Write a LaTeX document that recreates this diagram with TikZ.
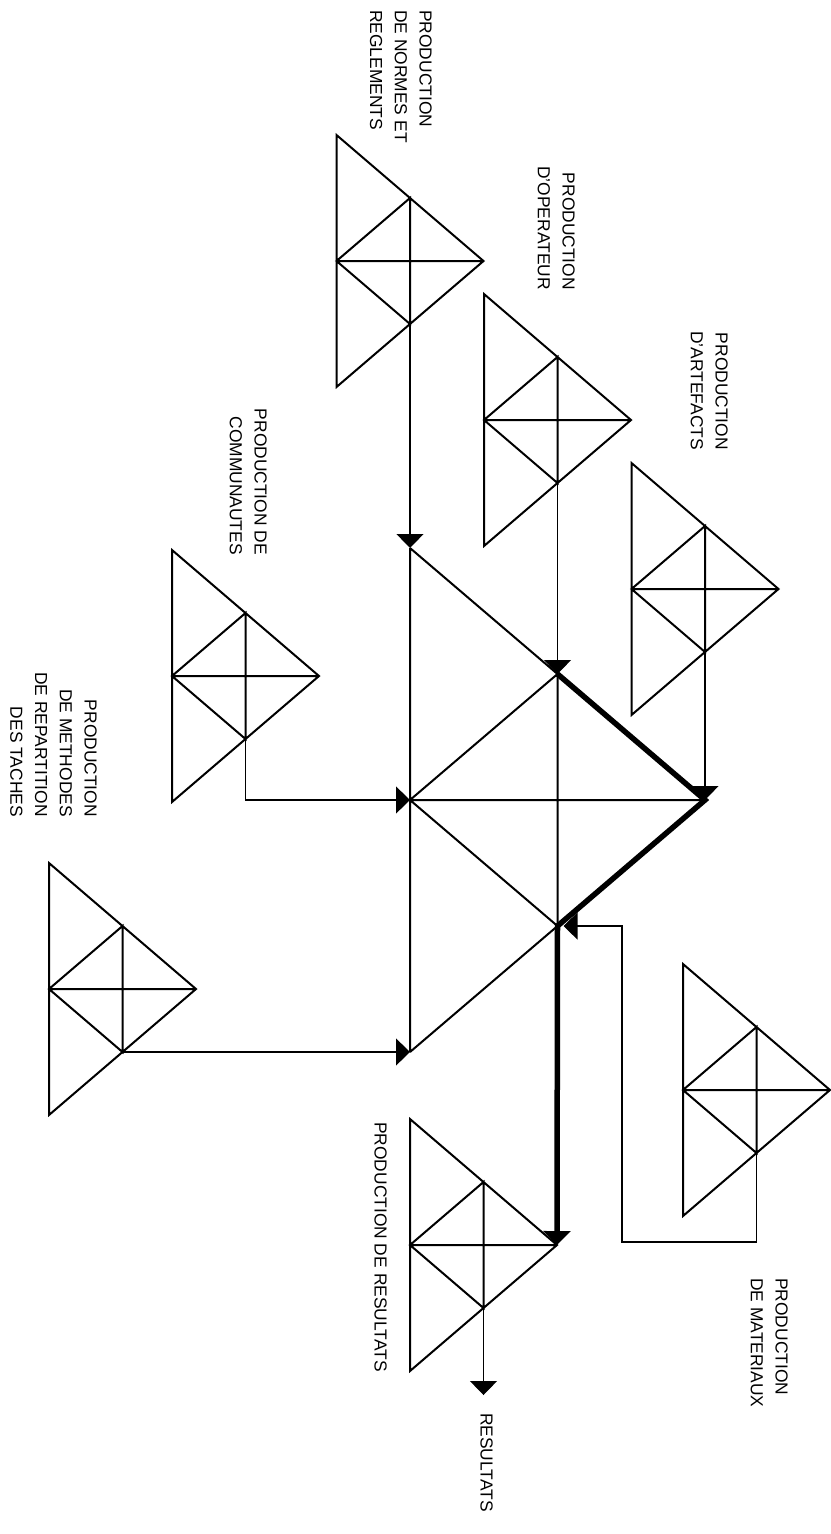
\documentclass[tikz,border=0pt]{standalone}
\usepackage{fontspec}
\setmainfont{Liberation Sans}
\usetikzlibrary{arrows.meta}

\tikzset{
  tri/.style={line width=2pt, line join=miter},
  conn/.style={line width=1.1pt},
  heavy/.style={line width=5.5pt, line join=miter},
  tip/.style={-{Triangle[width=27pt,length=14pt]}},
  lbl/.style={rotate=-90, inner sep=0pt, font=\fontsize{17.4pt}{24.8pt}\selectfont}
}

% #1 name, #2 base x, #3 middle y, #4 width, #5 half height
\newcommand\trigrid[5]{%
  \coordinate (#1-top) at (#2,{#3-#5});
  \coordinate (#1-bot) at (#2,{#3+#5});
  \coordinate (#1-base) at (#2,#3);
  \coordinate (#1-apex) at ({#2+#4},#3);
  \coordinate (#1-um) at ({#2+#4/2},{#3-#5/2});
  \coordinate (#1-lm) at ({#2+#4/2},{#3+#5/2});
  \draw[tri] (#1-top) -- (#1-apex) -- (#1-bot) -- cycle
             (#1-base) -- (#1-apex)
             (#1-base) -- (#1-um) -- (#1-lm) -- cycle;
}

\begin{document}
\begin{tikzpicture}[x=1pt, y=-1pt]
\useasboundingbox (0,0) rectangle (830,1534);

% small production triangles
\trigrid{norm}{336.5}{261}{147}{126}
\trigrid{op}{484}{420}{147}{126}
\trigrid{art}{631.5}{589}{147}{126}
\trigrid{com}{172}{676}{147}{126}
\trigrid{meth}{49}{989}{147}{126}
\trigrid{mat}{683}{1090}{147}{126}
\trigrid{res}{410}{1245}{147}{126}

% central triangle
\coordinate (big-top) at (410,548);
\coordinate (big-bot) at (410,1052);
\coordinate (big-base) at (410,800);
\coordinate (big-apex) at (705,800);
\coordinate (big-um) at (557.5,674);
\coordinate (big-lm) at (557.5,926);
\draw[tri] (big-top) -- (big-bot)
           (big-top) -- (big-um)
           (big-lm) -- (big-bot)
           (big-base) -- (big-apex)
           (big-base) -- (big-um) -- (big-lm) -- cycle;
\draw[heavy, tip] (big-um) -- (big-apex) -- (big-lm) -- (res-apex);

% feeding connectors
\draw[conn, tip] (norm-lm) -- (big-top);
\draw[conn, tip] (op-lm) -- (big-um);
\draw[conn, tip] (art-lm) -- (big-apex);
\draw[conn, tip] (com-lm) |- (big-base);
\draw[conn, tip] (meth-lm) -- (big-bot);
\coordinate (mat-turn) at (622,1242);
\draw[conn, tip, shorten >=6pt] (mat-lm) |- (mat-turn) |- (big-lm);
\coordinate (out) at (483.5,1395);
\draw[conn, tip] (res-lm) -- (out);

% labels
\node[lbl, anchor=north west, align=left] (l-norm) at (432,10) {PRODUCTION\\DE NORMES ET\\REGLEMENTS};
\node[lbl, anchor=north east, align=right] (l-op) at (575,290) {PRODUCTION\\D'OPERATEUR};
\node[lbl, anchor=north east, align=right] (l-art) at (728,450) {PRODUCTION\\D'ARTEFACTS};
\node[lbl, anchor=north east, align=right] (l-com) at (267,555) {PRODUCTION DE\\COMMUNAUTES};
\node[lbl, anchor=north east, align=right] (l-meth) at (97,817) {PRODUCTION\\DE METHODES\\DE REPARTITION\\DES TACHES};
\node[lbl, anchor=north west] (l-res) at (387,1122) {PRODUCTION DE RESULTATS};
\node[lbl, anchor=north west, align=left] (l-mat) at (788,1278) {PRODUCTION\\DE MATERIAUX};
\node[lbl, anchor=north west] (l-out) at (493,1413) {RESULTATS};
\end{tikzpicture}
\end{document}
